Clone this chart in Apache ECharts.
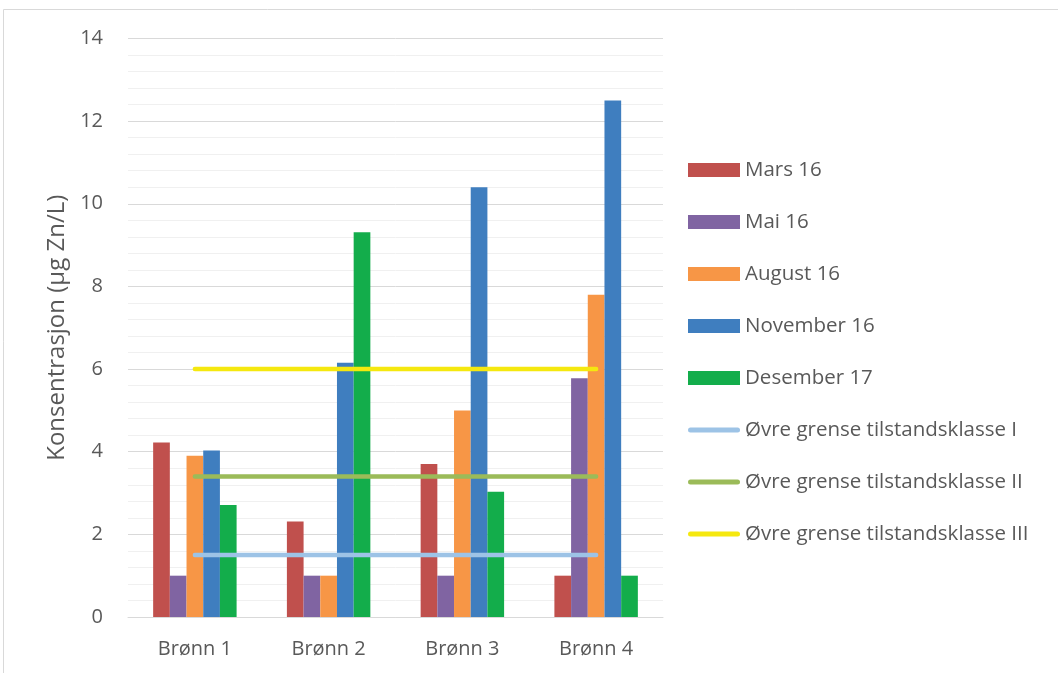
<!DOCTYPE html>
<html>
<head>
<meta charset="utf-8">
<script src="https://cdn.jsdelivr.net/npm/echarts@6/dist/echarts.min.js"></script>
<style>
  html, body { margin: 0; padding: 0; background: #fff; }
  #chart { width: 1058px; height: 673px; }
</style>
</head>
<body>
<div id="chart"></div>
<script>
// Wells along the x axis
const categories = ['Brønn 1', 'Brønn 2', 'Brønn 3', 'Brønn 4'];

// Zinc concentration per sampling round (µg Zn/L)
const mars16 = [4.22, 2.31, 3.70, 1.0];
const mai16 = [1.0, 1.0, 1.0, 5.78];
const august16 = [3.9, 1.0, 5.0, 7.8];
const november16 = [4.03, 6.15, 10.4, 12.5];
const desember17 = [2.71, 9.31, 3.03, 1.0];

// Upper limits of the condition classes
const grenseI = [1.5, 1.5, 1.5, 1.5];
const grenseII = [3.4, 3.4, 3.4, 3.4];
const grenseIII = [6, 6, 6, 6];

const yTicks = { min: 0, max: 14, interval: 2 };

const font = 'Open Sans';
const textColor = '#595959';
const fontSize = 20;

// thin bar with rounded ends, used as the legend icon of the limit lines
const lineIcon = 'path://M2.5,0 H49.5 A2.5,2.5 0 0 1 49.5,5 H2.5 A2.5,2.5 0 0 1 2.5,0 Z';

const chart = echarts.init(document.getElementById('chart'), null, { renderer: 'canvas' });

function bar(name, data, color) {
  return {
    name, type: 'bar', data,
    barGap: '0%', barCategoryGap: '37.6%',
    itemStyle: { color },
    z: 2
  };
}
function limit(name, data, color) {
  return {
    name, type: 'line', data,
    symbol: 'none',
    lineStyle: { color, width: 4.5, cap: 'round' },
    itemStyle: { color },
    z: 5
  };
}

chart.setOption({
  animation: false,
  backgroundColor: '#ffffff',
  textStyle: { fontFamily: font },
  graphic: [{
    type: 'rect',
    shape: { x: 3.5, y: 9.5, width: 1100, height: 700 },
    style: { fill: 'none', stroke: '#d9d9d9', lineWidth: 1 },
    silent: true
  }],
  grid: { left: 128, right: 395, top: 38.5, bottom: 56, containLabel: false },
  legend: {
    orient: 'vertical',
    left: 683,
    top: 154,
    itemWidth: 52,
    itemHeight: 14,
    itemGap: 30,
    symbolKeepAspect: true,
    textStyle: { color: textColor, fontSize: 20.5, fontFamily: font, lineHeight: 22, padding: [0, 0, 0, 0] },
    data: [
      { name: 'Mars 16', icon: 'rect' },
      { name: 'Mai 16', icon: 'rect' },
      { name: 'August 16', icon: 'rect' },
      { name: 'November 16', icon: 'rect' },
      { name: 'Desember 17', icon: 'rect' },
      { name: 'Øvre grense tilstandsklasse I', icon: lineIcon },
      { name: 'Øvre grense tilstandsklasse II', icon: lineIcon },
      { name: 'Øvre grense tilstandsklasse III', icon: lineIcon }
    ]
  },
  xAxis: {
    type: 'category',
    data: categories,
    axisLine: { show: true, lineStyle: { color: '#d9d9d9', width: 1 } },
    axisTick: { show: false },
    axisLabel: { color: textColor, fontSize, fontFamily: font, margin: 22 }
  },
  yAxis: {
    type: 'value',
    min: yTicks.min, max: yTicks.max, interval: yTicks.interval,
    name: 'Konsentrasjon (µg Zn/L)',
    nameLocation: 'middle',
    nameGap: 56,
    nameRotate: 90,
    nameTextStyle: { color: textColor, fontSize: 24, fontFamily: font },
    axisLine: { show: false },
    axisTick: { show: false },
    axisLabel: { color: textColor, fontSize, fontFamily: font, margin: 25 },
    splitLine: { show: true, lineStyle: { color: '#d9d9d9', width: 1 } },
    minorTick: { show: false, splitNumber: 5 },
    minorSplitLine: { show: true, lineStyle: { color: '#f0f0f0', width: 1 } }
  },
  series: [
    bar('Mars 16', mars16, '#c0504d'),
    bar('Mai 16', mai16, '#8064a2'),
    bar('August 16', august16, '#f79646'),
    bar('November 16', november16, '#3f7ebf'),
    bar('Desember 17', desember17, '#13ad4b'),
    limit('Øvre grense tilstandsklasse I', grenseI, '#9dc3e6'),
    limit('Øvre grense tilstandsklasse II', grenseII, '#9bbb59'),
    limit('Øvre grense tilstandsklasse III', grenseIII, '#f5e80f')
  ]
});
</script>
</body>
</html>
